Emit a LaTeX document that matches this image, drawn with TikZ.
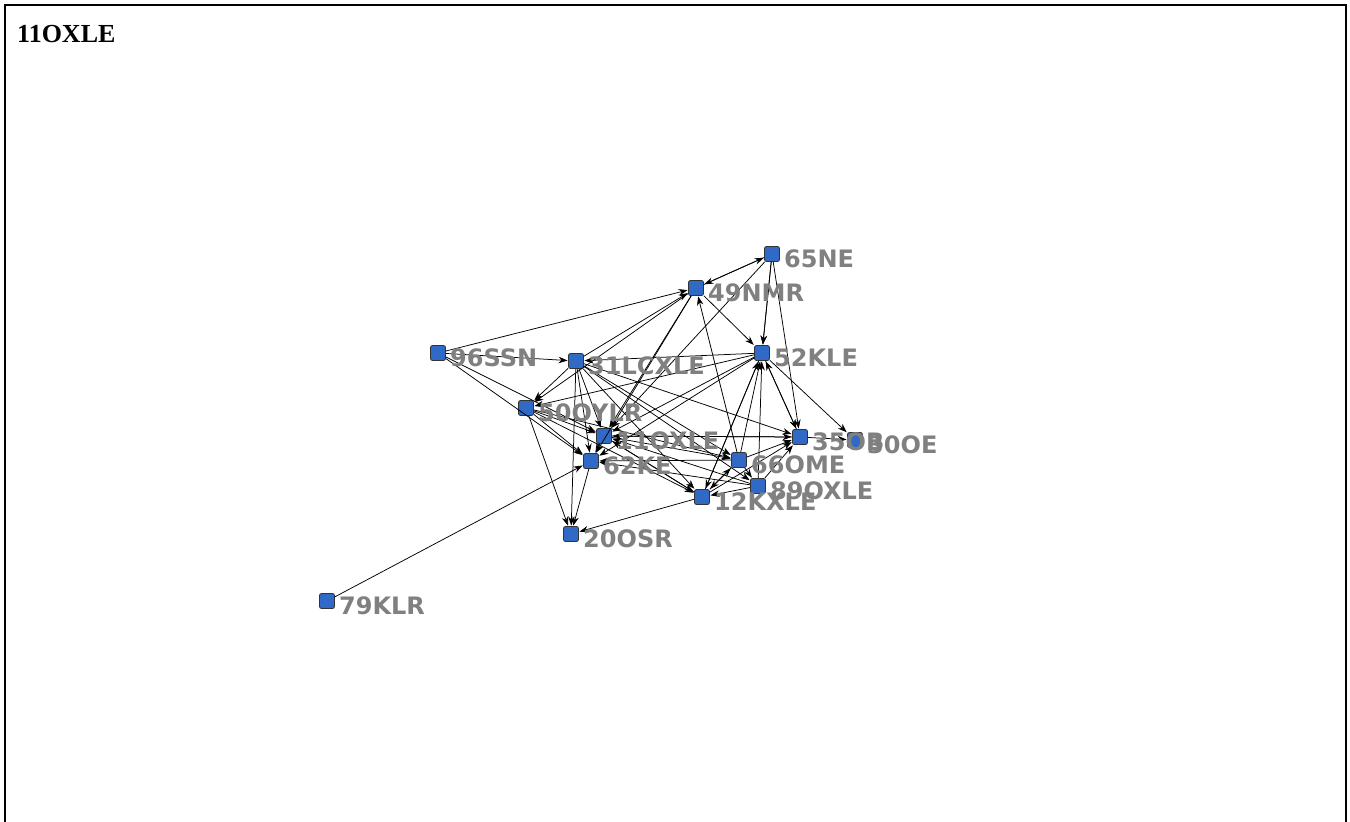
\documentclass[tikz,border=0pt]{standalone}
\usepackage{fontspec}
\newfontfamily\lblfont{DejaVu Sans}
\newfontfamily\titlefont{Liberation Serif}
\usetikzlibrary{arrows.meta,calc}
\definecolor{nodeblue}{RGB}{49,105,198}
\definecolor{lblgray}{RGB}{128,128,128}
\tikzset{
  vtx/.style={draw=black!80, fill=nodeblue, rounded corners=2pt, minimum size=15pt, inner sep=0pt, line width=0.8pt},
  lbl/.style={anchor=west, inner sep=0pt, text=lblgray, font=\lblfont\bfseries\fontsize{24}{24}\selectfont},
  edge/.style={draw=black, line width=0.75pt, -{Stealth[length=9pt,width=6.5pt]}, shorten >=0.5pt},
}
\begin{document}
\begin{tikzpicture}[x=1pt,y=-1pt]
\useasboundingbox (0,0) rectangle (1350,822);
\draw[line width=2pt] (5,5) rectangle (1346,840);
\node[anchor=base west, inner sep=0pt, font=\titlefont\bfseries\fontsize{26}{26}\selectfont] (title) at (17,42) {11OXLE};
% vertices
\coordinate (c65) at (772,254);
\coordinate (c49) at (696,288);
\coordinate (c96) at (438,353);
\coordinate (c31) at (576,361);
\coordinate (c52) at (762,353);
\coordinate (c50) at (526,408);
\coordinate (c11) at (604,436);
\coordinate (c62) at (591,461);
\coordinate (c35) at (800,437);
\coordinate (c30) at (855,440);
\coordinate (c66) at (739,460);
\coordinate (c89) at (758,486);
\coordinate (c12) at (702,497);
\coordinate (c20) at (571,534);
\coordinate (c79) at (327,601);
\foreach \n in {65,49,96,31,52,50,11,62,35,30,66,89,12,20,79}
  \node[vtx] (n\n) at (c\n) {};
% edges
\foreach \a/\b in {
  96/49, 96/31, 96/11, 96/62,
  65/49, 49/65, 65/52, 65/52, 65/35, 65/11,
  49/52, 49/50, 49/11, 49/62, 66/49,
  52/31, 52/50, 52/11, 52/62, 52/35, 52/30, 52/12,
  66/52, 89/52, 12/52, 35/52,
  31/50, 31/11, 31/62, 31/20, 31/12, 31/66, 31/89, 31/35, 31/49,
  50/11, 50/62, 50/20, 50/12, 50/66,
  11/62, 11/35, 35/11, 11/12, 11/66,
  62/20, 12/20, 79/62,
  66/89, 66/35, 89/35, 35/30,
  66/62, 89/62, 89/11, 12/11, 12/35, 66/12, 89/12, 12/66}
  \draw[edge] (n\a) -- (n\b);
% labels
\node[lbl] (l65) at ($(c65)+(12,5)$) {65NE};
\node[lbl] (l49) at ($(c49)+(12,5)$) {49NMR};
\node[lbl] (l96) at ($(c96)+(12,5)$) {96SSN};
\node[lbl] (l31) at ($(c31)+(12,5)$) {31LCXLE};
\node[lbl] (l52) at ($(c52)+(12,5)$) {52KLE};
\node[lbl] (l50) at ($(c50)+(12,5)$) {50OYLR};
\node[lbl] (l11) at ($(c11)+(12,5)$) {11OXLE};
\node[lbl] (l62) at ($(c62)+(12,5)$) {62KE};
\node[lbl] (l35) at ($(c35)+(12,5)$) {35OB};
\node[lbl] (l30) at ($(c30)+(12,5)$) {30OE};
\node[lbl] (l66) at ($(c66)+(12,5)$) {66OME};
\node[lbl] (l89) at ($(c89)+(12,5)$) {89OXLE};
\node[lbl] (l12) at ($(c12)+(12,5)$) {12KXLE};
\node[lbl] (l20) at ($(c20)+(12,5)$) {20OSR};
\node[lbl] (l79) at ($(c79)+(12,5)$) {79KLR};
\end{tikzpicture}
\end{document}
